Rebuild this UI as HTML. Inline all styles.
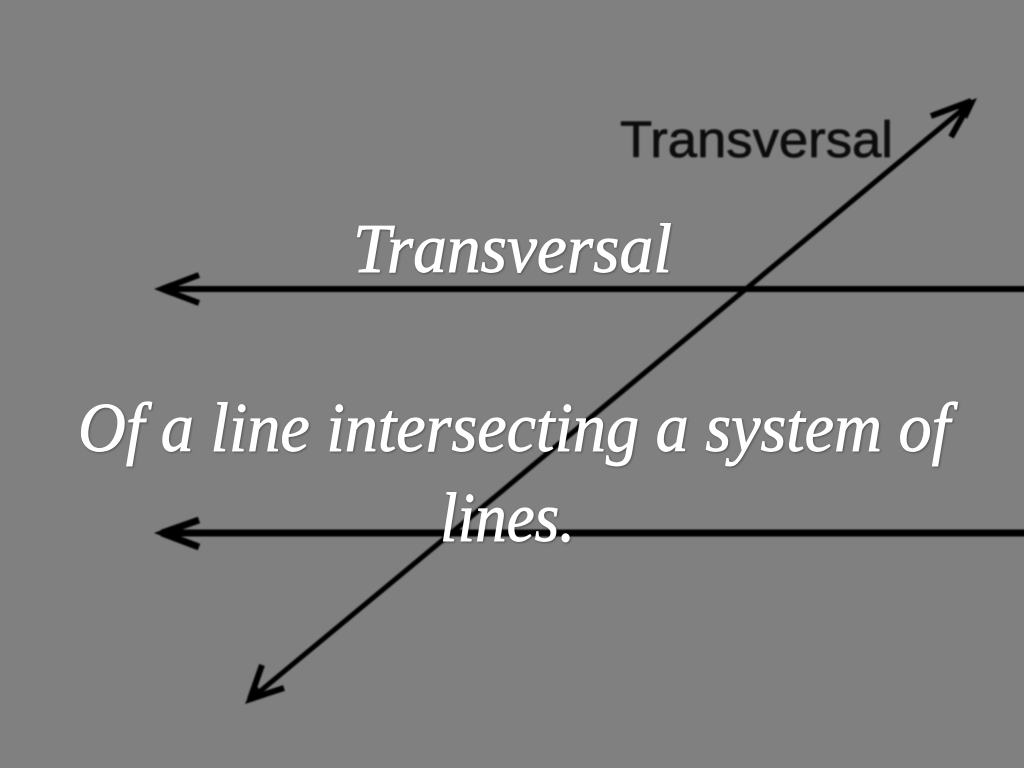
<!DOCTYPE html>
<html>
<head>
<meta charset="utf-8">
<style>
html,body{margin:0;padding:0;width:1024px;height:768px;overflow:hidden;background:#808080}
svg{display:block;position:absolute;left:0;top:0}
.w{font-family:"Liberation Serif",serif;font-style:italic;fill:#fff;stroke:#fff;stroke-width:.9;filter:drop-shadow(1px 1px 1px rgba(0,0,0,.35))}
</style>
</head>
<body>
<svg width="1024" height="768" viewBox="0 0 1024 768" xmlns="http://www.w3.org/2000/svg">
<defs><filter id="b" x="-5%" y="-5%" width="110%" height="110%"><feGaussianBlur stdDeviation="0.8"/></filter></defs>
<rect width="1024" height="768" fill="#808080"/>
<g filter="url(#b)" fill="none" stroke="#000" stroke-linecap="butt" stroke-linejoin="bevel">
<path d="M165 289H1030" stroke-width="6"/>
<path d="M199 275L162 289L199 303" stroke-width="6"/>
<path d="M165 533H1030" stroke-width="7"/>
<path d="M199 520L162 533L199 547" stroke-width="7"/>
<path d="M968 105L252 698" stroke-width="5"/>
<path d="M931 116L971 101L951 137" stroke-width="6"/>
<path d="M262 665L250 699L284 688" stroke-width="6"/>
<path d="M154 289L172 282L172 296Z M154 533L172 526L172 540Z M977 98L956 106L967 119Z M245 704L266 697L254 683Z" fill="#000" stroke="none"/>
<text x="620" y="157" font-family="'Liberation Sans',sans-serif" font-size="51" textLength="273" lengthAdjust="spacingAndGlyphs" fill="#111" stroke="#111" stroke-width=".7">Transversal</text>
</g>
<text class="w" x="353" y="272" font-size="70" textLength="319" lengthAdjust="spacingAndGlyphs">Transversal</text>
<text class="w" x="78" y="451" font-size="70" textLength="872" lengthAdjust="spacingAndGlyphs">Of a line intersecting a system of</text>
<text class="w" x="440" y="541" font-size="70" textLength="135" lengthAdjust="spacingAndGlyphs">lines.</text>
</svg>
</body>
</html>
